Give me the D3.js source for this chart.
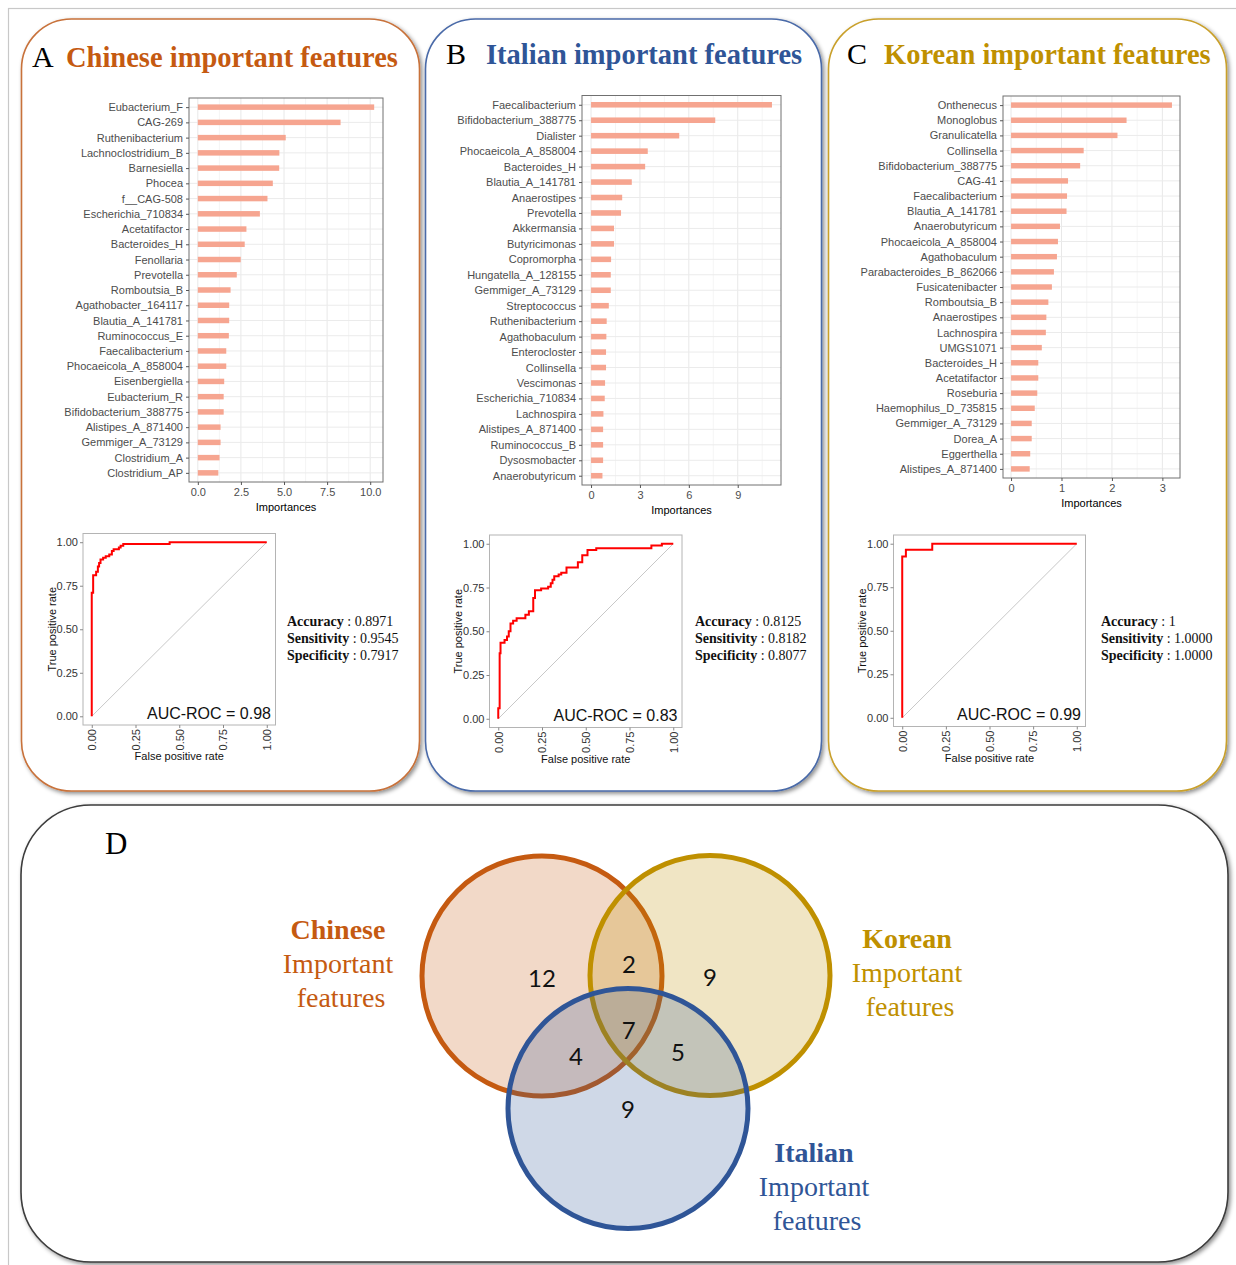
<!DOCTYPE html>
<html>
<head>
<meta charset="utf-8">
<script src="https://cdn.jsdelivr.net/npm/d3@7"></script>
<style>
  body { margin: 0; background: #fff; }
  svg { display: block; }
</style>
</head>
<body>
<svg id="fig" width="1236" height="1265"></svg>
<script>
// ---- Feature importances (random forest), one list per cohort ----
const chineseFeatures = ["Eubacterium_F","CAG-269","Ruthenibacterium","Lachnoclostridium_B","Barnesiella","Phocea","f__CAG-508","Escherichia_710834","Acetatifactor","Bacteroides_H","Fenollaria","Prevotella","Romboutsia_B","Agathobacter_164117","Blautia_A_141781","Ruminococcus_E","Faecalibacterium","Phocaeicola_A_858004","Eisenbergiella","Eubacterium_R","Bifidobacterium_388775","Alistipes_A_871400","Gemmiger_A_73129","Clostridium_A","Clostridium_AP"];
const chineseImportance = [10.23,8.28,5.10,4.73,4.72,4.35,4.04,3.60,2.82,2.72,2.49,2.26,1.90,1.82,1.82,1.80,1.65,1.65,1.53,1.50,1.50,1.32,1.32,1.26,1.19];

const italianFeatures = ["Faecalibacterium","Bifidobacterium_388775","Dialister","Phocaeicola_A_858004","Bacteroides_H","Blautia_A_141781","Anaerostipes","Prevotella","Akkermansia","Butyricimonas","Copromorpha","Hungatella_A_128155","Gemmiger_A_73129","Streptococcus","Ruthenibacterium","Agathobaculum","Enterocloster","Collinsella","Vescimonas","Escherichia_710834","Lachnospira","Alistipes_A_871400","Ruminococcus_B","Dysosmobacter","Anaerobutyricum"];
const italianImportance = [11.10,7.62,5.41,3.48,3.32,2.50,1.91,1.84,1.41,1.41,1.23,1.21,1.21,1.09,0.96,0.94,0.92,0.92,0.86,0.84,0.76,0.74,0.74,0.74,0.70];

const koreanFeatures = ["Onthenecus","Monoglobus","Granulicatella","Collinsella","Bifidobacterium_388775","CAG-41","Faecalibacterium","Blautia_A_141781","Anaerobutyricum","Phocaeicola_A_858004","Agathobaculum","Parabacteroides_B_862066","Fusicatenibacter","Romboutsia_B","Anaerostipes","Lachnospira","UMGS1071","Bacteroides_H","Acetatifactor","Roseburia","Haemophilus_D_735815","Gemmiger_A_73129","Dorea_A","Eggerthella","Alistipes_A_871400"];
const koreanImportance = [3.19,2.29,2.11,1.44,1.37,1.13,1.11,1.10,0.97,0.93,0.91,0.85,0.81,0.74,0.70,0.69,0.61,0.54,0.54,0.52,0.47,0.41,0.41,0.38,0.37];

const chineseTicks = [0, 2.5, 5, 7.5, 10];
const italianTicks = [0, 3, 6, 9];
const koreanTicks = [0, 1, 2, 3];
const rocTicks = [0, 0.25, 0.5, 0.75, 1];

// ---- ROC curves: [false positive rate, true positive rate] ----
const rocChinese = [[0,0],[0,0.71],[0.008,0.71],[0.008,0.81],[0.025,0.81],[0.025,0.83],[0.035,0.83],[0.035,0.86],[0.042,0.86],[0.042,0.88],[0.05,0.88],[0.05,0.90],[0.065,0.90],[0.065,0.91],[0.08,0.91],[0.08,0.92],[0.10,0.92],[0.10,0.93],[0.115,0.93],[0.115,0.95],[0.125,0.95],[0.125,0.96],[0.155,0.96],[0.155,0.97],[0.165,0.97],[0.165,0.98],[0.18,0.98],[0.18,0.99],[0.445,0.99],[0.445,1],[1,1]];
const rocItalian = [[0,0],[0,0.06],[0.008,0.06],[0.008,0.374],[0.013,0.374],[0.013,0.435],[0.036,0.435],[0.036,0.45],[0.05,0.45],[0.05,0.47],[0.06,0.47],[0.06,0.50],[0.07,0.50],[0.07,0.545],[0.085,0.545],[0.085,0.56],[0.105,0.56],[0.105,0.575],[0.155,0.575],[0.155,0.595],[0.175,0.595],[0.175,0.615],[0.20,0.615],[0.20,0.69],[0.21,0.69],[0.21,0.735],[0.245,0.735],[0.245,0.745],[0.285,0.745],[0.285,0.755],[0.30,0.755],[0.30,0.775],[0.31,0.775],[0.31,0.795],[0.32,0.795],[0.32,0.815],[0.345,0.815],[0.345,0.825],[0.36,0.825],[0.36,0.835],[0.39,0.835],[0.39,0.865],[0.455,0.865],[0.455,0.895],[0.48,0.895],[0.48,0.935],[0.51,0.935],[0.51,0.965],[0.56,0.965],[0.56,0.975],[0.875,0.975],[0.875,0.99],[0.935,0.99],[0.935,1],[1,1]];
const rocKorean = [[0,0],[0,0.927],[0.021,0.927],[0.021,0.965],[0.172,0.965],[0.172,1],[1,1]];

const aucValues = [0.98, 0.83, 0.99];
const metricNames = ["Accuracy", "Sensitivity", "Specificity"];
const metricsChinese = ["0.8971", "0.9545", "0.7917"];
const metricsItalian = ["0.8125", "0.8182", "0.8077"];
const metricsKorean = ["1", "1.0000", "1.0000"];

// ---- Overlap of the three important-feature sets ----
const vennSets = ["Chinese", "Korean", "Italian"];
const vennRegions = [["Chinese"],["Korean"],["Italian"],["Chinese","Korean"],["Chinese","Italian"],["Korean","Italian"],["Chinese","Korean","Italian"]];
const vennCounts = [12, 9, 9, 2, 4, 5, 7];

// ------------------------------------------------------------------
const SANS = "'Liberation Sans', Arial, sans-serif";
const SERIF = "'Liberation Serif', 'Times New Roman', serif";
const svg = d3.select("#fig");

const defs = svg.append("defs");
const shadow = defs.append("filter").attr("id", "shadow")
  .attr("x", "-5%").attr("y", "-5%").attr("width", "110%").attr("height", "110%");
shadow.append("feDropShadow").attr("dx", 2).attr("dy", 2).attr("stdDeviation", 2)
  .attr("flood-color", "#000").attr("flood-opacity", 0.45);

// outer frame
svg.append("rect").attr("x", 8.5).attr("y", 8.5).attr("width", 1240).attr("height", 1270)
  .attr("fill", "none").attr("stroke", "#c8c8c8").attr("stroke-width", 1.2);

// rounded panel boxes
const boxes = [
  { x: 21.5, y: 19, w: 398, h: 772, r: 50, stroke: "#c8723b" },
  { x: 425.5, y: 19, w: 396, h: 772, r: 50, stroke: "#4a6aa8" },
  { x: 828.5, y: 19, w: 398, h: 772, r: 50, stroke: "#c9a02c" },
  { x: 21, y: 805, w: 1207, h: 457, r: 70, stroke: "#3c3c3c" }
];
svg.selectAll("rect.box").data(boxes).join("rect").attr("class", "box")
  .attr("x", d => d.x).attr("y", d => d.y).attr("width", d => d.w).attr("height", d => d.h)
  .attr("rx", d => d.r).attr("ry", d => d.r)
  .attr("fill", "#fff").attr("stroke", d => d.stroke).attr("stroke-width", 1.6)
  .attr("filter", "url(#shadow)");

// panel headings
const headings = [
  { letter: "A", lx: 32, tx: 66, y: 67, text: "Chinese important features", color: "#c55a11" },
  { letter: "B", lx: 446, tx: 486, y: 64, text: "Italian important features", color: "#2f5597" },
  { letter: "C", lx: 847, tx: 884, y: 64, text: "Korean important features", color: "#bf9000" }
];
headings.forEach(h => {
  svg.append("text").attr("x", h.lx).attr("y", h.y).attr("font-family", SERIF)
    .attr("font-size", 30).attr("fill", "#000").text(h.letter);
  svg.append("text").attr("x", h.tx).attr("y", h.y).attr("font-family", SERIF)
    .attr("font-size", 28.5).attr("font-weight", "bold").attr("fill", h.color).text(h.text);
});

// ---- horizontal importance bar chart ----
function importancePanel(names, values, ticks, fmt, box) {
  const g = svg.append("g");
  const M = d3.max(values);
  const x = d3.scaleLinear().domain([-0.05 * M, 1.05 * M]).range([box.x0, box.x1]);
  const y = d3.scalePoint().domain(names).range([box.y0, box.y1]).padding(0.6);
  const step = ticks[1] - ticks[0];
  const minor = d3.range(ticks[0] + step / 2, x.domain()[1], step);
  const bh = y.step() * 0.36;

  g.append("rect").attr("x", box.x0).attr("y", box.y0)
    .attr("width", box.x1 - box.x0).attr("height", box.y1 - box.y0).attr("fill", "#fff");
  g.selectAll("line.minor").data(minor).join("line").attr("class", "minor")
    .attr("x1", d => x(d)).attr("x2", d => x(d)).attr("y1", box.y0).attr("y2", box.y1)
    .attr("stroke", "#f3f3f3").attr("stroke-width", 0.8);
  g.selectAll("line.gx").data(ticks).join("line").attr("class", "gx")
    .attr("x1", d => x(d)).attr("x2", d => x(d)).attr("y1", box.y0).attr("y2", box.y1)
    .attr("stroke", "#e8e8e8").attr("stroke-width", 1);
  g.selectAll("line.gy").data(names).join("line").attr("class", "gy")
    .attr("x1", box.x0).attr("x2", box.x1).attr("y1", d => y(d)).attr("y2", d => y(d))
    .attr("stroke", "#ebebeb").attr("stroke-width", 1);

  g.selectAll("rect.bar").data(names.map((n, i) => ({ n, v: values[i] }))).join("rect")
    .attr("class", "bar")
    .attr("x", x(0)).attr("y", d => y(d.n) - bh / 2)
    .attr("width", d => x(d.v) - x(0)).attr("height", bh)
    .attr("fill", "#f6a590");

  g.append("rect").attr("x", box.x0).attr("y", box.y0)
    .attr("width", box.x1 - box.x0).attr("height", box.y1 - box.y0)
    .attr("fill", "none").attr("stroke", "#707070").attr("stroke-width", 1);

  const ay = g.append("g").attr("transform", `translate(${box.x0},0)`)
    .call(d3.axisLeft(y).tickSize(3).tickPadding(3));
  const ax = g.append("g").attr("transform", `translate(0,${box.y1})`)
    .call(d3.axisBottom(x).tickValues(ticks).tickFormat(fmt).tickSize(3).tickPadding(3));
  [ay, ax].forEach(a => {
    a.select(".domain").remove();
    a.selectAll("line").attr("stroke", "#555");
    a.selectAll("text").attr("font-family", SANS).attr("font-size", 11).attr("fill", "#4d4d4d");
  });
  g.append("text").attr("x", (box.x0 + box.x1) / 2).attr("y", box.y1 + 29)
    .attr("text-anchor", "middle").attr("font-family", SANS).attr("font-size", 11)
    .attr("fill", "#000").text("Importances");
}

importancePanel(chineseFeatures, chineseImportance, chineseTicks, d3.format(".1f"),
  { x0: 189, x1: 383, y0: 98, y1: 482 });
importancePanel(italianFeatures, italianImportance, italianTicks, d3.format("d"),
  { x0: 582, x1: 781, y0: 95.5, y1: 485 });
importancePanel(koreanFeatures, koreanImportance, koreanTicks, d3.format("d"),
  { x0: 1003, x1: 1180, y0: 96, y1: 478 });

// ---- ROC curve panel ----
function rocPanel(points, auc, metrics, box, mx) {
  const g = svg.append("g");
  const x = d3.scaleLinear().domain([-0.05, 1.05]).range([box.x0, box.x1]);
  const y = d3.scaleLinear().domain([-0.05, 1.05]).range([box.y1, box.y0]);

  g.append("rect").attr("x", box.x0).attr("y", box.y0)
    .attr("width", box.x1 - box.x0).attr("height", box.y1 - box.y0)
    .attr("fill", "#fff").attr("stroke", "#b4b4b4").attr("stroke-width", 1);
  g.append("line").attr("x1", x(0)).attr("y1", y(0)).attr("x2", x(1)).attr("y2", y(1))
    .attr("stroke", "#c8c8c8").attr("stroke-width", 1);
  g.append("path").datum(points)
    .attr("d", d3.line().x(d => x(d[0])).y(d => y(d[1])))
    .attr("fill", "none").attr("stroke", "#ff0000").attr("stroke-width", 2)
    .attr("stroke-linejoin", "miter");

  const fmt = d3.format(".2f");
  const ay = g.append("g").attr("transform", `translate(${box.x0},0)`)
    .call(d3.axisLeft(y).tickValues(rocTicks).tickFormat(fmt).tickSize(3).tickPadding(2));
  const ax = g.append("g").attr("transform", `translate(0,${box.y1})`)
    .call(d3.axisBottom(x).tickValues(rocTicks).tickFormat(fmt).tickSize(3));
  [ay, ax].forEach(a => {
    a.select(".domain").remove();
    a.selectAll("line").attr("stroke", "#888");
    a.selectAll("text").attr("font-family", SANS).attr("font-size", 11).attr("fill", "#333");
  });
  // vertical labels reading upwards, hanging just below the tick marks
  ax.selectAll("text").attr("transform", "rotate(-90)").attr("x", -4).attr("y", 0)
    .attr("dy", "0.35em").attr("text-anchor", "end");

  g.append("text").attr("transform", `translate(${box.x0 - 31},${(box.y0 + box.y1) / 2}) rotate(-90)`)
    .attr("text-anchor", "middle").attr("dy", "0.35em").attr("font-family", SANS)
    .attr("font-size", 11).attr("fill", "#111").text("True positive rate");
  g.append("text").attr("x", (box.x0 + box.x1) / 2).attr("y", box.y1 + 35)
    .attr("text-anchor", "middle").attr("font-family", SANS).attr("font-size", 11)
    .attr("fill", "#111").text("False positive rate");
  g.append("text").attr("x", box.x1 - 4.5).attr("y", box.y1 - 6.5)
    .attr("text-anchor", "end").attr("font-family", SANS).attr("font-size", 16)
    .attr("fill", "#111").text(`AUC-ROC = ${d3.format(".2f")(auc)}`);

  metricNames.forEach((m, i) => {
    const t = g.append("text").attr("x", mx).attr("y", 626 + i * 17)
      .attr("font-family", SERIF).attr("font-size", 14).attr("fill", "#111");
    t.append("tspan").attr("font-weight", "bold").text(m);
    t.append("tspan").text(` : ${metrics[i]}`);
  });
}

rocPanel(rocChinese, aucValues[0], metricsChinese, { x0: 83, x1: 275.5, y0: 533.5, y1: 725 }, 287);
rocPanel(rocItalian, aucValues[1], metricsItalian, { x0: 489.5, x1: 682, y0: 535, y1: 727.5 }, 695);
rocPanel(rocKorean, aucValues[2], metricsKorean, { x0: 893.5, x1: 1085.5, y0: 535, y1: 726.5 }, 1101);

// ---- Venn diagram (panel D) ----
svg.append("text").attr("x", 105).attr("y", 854).attr("font-family", SERIF)
  .attr("font-size", 31).attr("fill", "#000").text("D");

const vennStyle = {
  Chinese: { cx: 542, cy: 976, color: "#c55a11", label: [338, 939] },
  Korean:  { cx: 710, cy: 975.5, color: "#bf9000", label: [907, 948] },
  Italian: { cx: 628, cy: 1108.5, color: "#2f5597", label: [814, 1162] }
};
const vennR = 120;

const vg = svg.append("g");
vennSets.forEach(s => {
  const st = vennStyle[s];
  vg.append("circle").attr("cx", st.cx).attr("cy", st.cy).attr("r", vennR)
    .attr("fill", st.color).attr("fill-opacity", 0.23)
    .attr("stroke", st.color).attr("stroke-width", 5);
});

// label offset of each region from the mean of its circles' centres
const regionOffset = {
  "Chinese": [0, 2], "Korean": [0, 2], "Italian": [0, 1],
  "Chinese|Korean": [3, -11.5], "Chinese|Italian": [-9, 14], "Korean|Italian": [9, 10.5],
  "Chinese|Korean|Italian": [2, 10]
};
vennRegions.forEach((sets, i) => {
  const mxv = d3.mean(sets, s => vennStyle[s].cx);
  const myv = d3.mean(sets, s => vennStyle[s].cy);
  const off = regionOffset[sets.join("|")];
  vg.append("text").attr("x", mxv + off[0]).attr("y", myv + off[1])
    .attr("dy", "0.36em").attr("text-anchor", "middle")
    .attr("font-family", "Lato, 'Open Sans', sans-serif").attr("font-size", 24)
    .attr("fill", "#111").text(vennCounts[i]);
});

vennSets.forEach(s => {
  const st = vennStyle[s];
  const t = vg.append("text").attr("text-anchor", "middle").attr("font-family", SERIF)
    .attr("font-size", 28).attr("fill", st.color);
  t.append("tspan").attr("x", st.label[0]).attr("y", st.label[1]).attr("font-weight", "bold").text(s);
  t.append("tspan").attr("x", st.label[0]).attr("y", st.label[1] + 34).text("Important");
  t.append("tspan").attr("x", st.label[0] + 3).attr("y", st.label[1] + 68).text("features");
});
</script>
</body>
</html>
